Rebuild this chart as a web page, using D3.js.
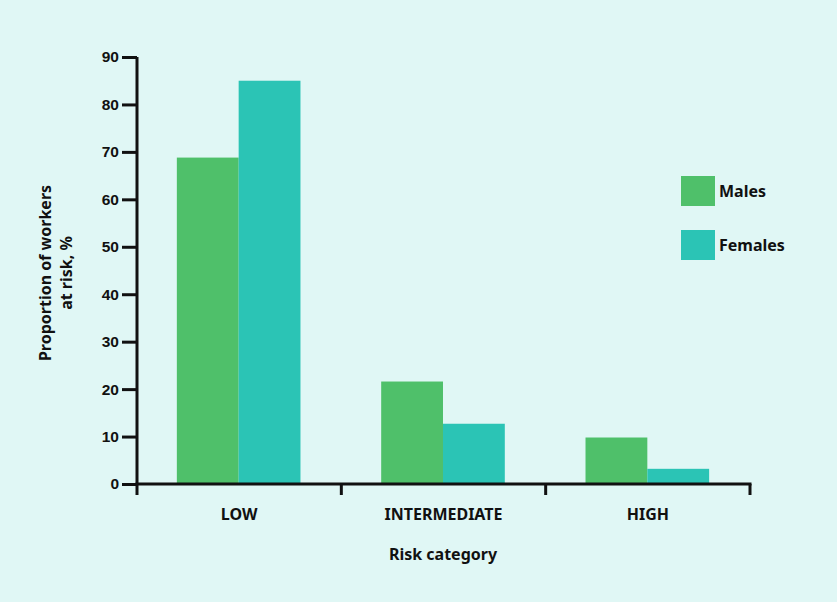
<!DOCTYPE html>
<html><head><meta charset="utf-8">
<script src="https://cdn.jsdelivr.net/npm/d3@7"></script>
<style>
body{margin:0;background:#e0f7f5;}
svg{display:block;font-family:"Noto Sans",sans-serif;}
</style></head><body>
<svg id="c" width="837" height="602"></svg>
<script>
const categories = ["LOW","INTERMEDIATE","HIGH"];
const seriesNames = ["Males","Females"];
const males = [68.8, 21.6, 9.8];
const females = [85.0, 12.7, 3.2];
const yTicks = [0,10,20,30,40,50,60,70,80,90];
const colors = ["#4fc06a","#2bc4b5"];

const svg = d3.select("#c");
svg.append("rect").attr("width",837).attr("height",602).attr("fill","#e0f7f5");

const x0 = d3.scaleBand().domain(categories).range([137,750]).padding(0);
const x1 = d3.scaleBand().domain(seriesNames).range([x0.bandwidth()*0.195, x0.bandwidth()*0.8]).padding(0);
const y = d3.scaleLinear().domain([0,90]).range([484,57]);

const data = categories.map((c,i)=>({cat:c, vals:[{s:"Males",v:males[i]},{s:"Females",v:females[i]}]}));

const g = svg.append("g");
g.selectAll("g.grp").data(data).join("g")
  .attr("transform",d=>`translate(${x0(d.cat)},0)`)
  .selectAll("rect").data(d=>d.vals).join("rect")
  .attr("x",d=>x1(d.s)).attr("width",x1.bandwidth())
  .attr("y",d=>y(d.v)).attr("height",d=>y(0)-y(d.v))
  .attr("fill",(d,i)=>colors[i]);

// Y axis
const yAxis = d3.axisLeft(y).tickValues(yTicks).tickSize(15).tickPadding(3);
const ya = svg.append("g").attr("transform","translate(137,0)").call(yAxis);
ya.select(".domain").attr("stroke","#111").attr("stroke-width",3).attr("d","M0,57V485");
ya.selectAll(".tick line").attr("stroke","#111").attr("stroke-width",3);
ya.selectAll(".tick text").attr("font-size",15.5).attr("font-weight","bold").attr("fill","#111");

// X axis
const xa = svg.append("g").attr("transform","translate(0,484)");
xa.append("line").attr("x1",135.5).attr("x2",751.5).attr("y1",0).attr("y2",0).attr("stroke","#111").attr("stroke-width",3);
const edges = [x0.range()[0], ...categories.map(c=>x0(c)+x0.bandwidth())];
xa.selectAll("line.tk").data(edges).join("line").attr("class","tk")
  .attr("x1",d=>d).attr("x2",d=>d).attr("y1",0).attr("y2",11)
  .attr("stroke","#111").attr("stroke-width",3);
xa.selectAll("text").data(categories).join("text")
  .attr("x",d=>x0(d)+x0.bandwidth()/2).attr("y",36)
  .attr("text-anchor","middle").attr("font-size",16).attr("font-weight","bold").attr("fill","#111")
  .text(d=>d);

svg.append("text").attr("x",443).attr("y",560).attr("text-anchor","middle")
  .attr("font-size",16).attr("font-weight","bold").attr("fill","#111").text("Risk category");

const yt = svg.append("text").attr("transform","translate(51,273) rotate(-90)")
  .attr("text-anchor","middle").attr("font-size",16).attr("font-weight","bold").attr("fill","#111");
yt.append("tspan").attr("x",0).attr("dy",0).text("Proportion of workers");
yt.append("tspan").attr("x",0).attr("dy",21).text("at risk, %");

// Legend
const leg = svg.append("g");
seriesNames.forEach((s,i)=>{
  leg.append("rect").attr("x",681).attr("y",176+i*54).attr("width",34).attr("height",30).attr("fill",colors[i]);
  leg.append("text").attr("x",719).attr("y",197+i*54).attr("font-size",16).attr("font-weight","bold").attr("fill","#111").text(s);
});
</script>
</body></html>
